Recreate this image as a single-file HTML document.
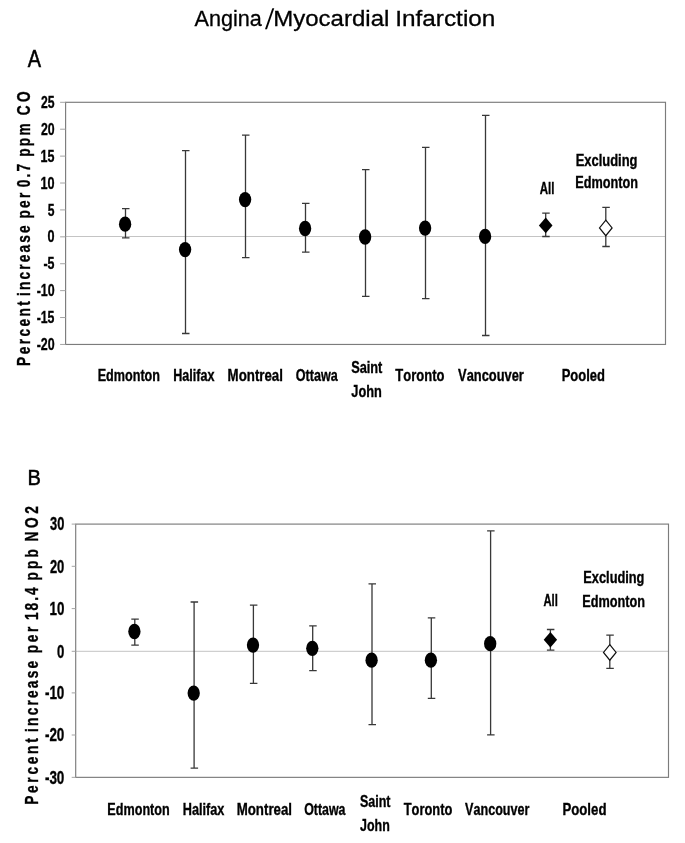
<!DOCTYPE html>
<html lang="en"><head><meta charset="utf-8"><title>Angina/Myocardial Infarction</title>
<style>html,body{margin:0;padding:0;background:#fff}svg{display:block;will-change:transform;opacity:.999}text{font-kerning:none}</style></head>
<body>
<svg width="685" height="843" viewBox="0 0 685 843" font-family="Liberation Sans, Arial, Helvetica, sans-serif" fill="#000">
<rect width="685" height="843" fill="#fff"/>
<text y="25.6" font-size="22.8" stroke="#000" stroke-width="0.3"><tspan x="194.56" textLength="67.34" lengthAdjust="spacingAndGlyphs">Angina</tspan></text>
<text transform="translate(265.1,28.9) skewX(-5.9) scale(1,1.125)" font-size="25.6">/</text>
<text y="25.6" font-size="22.8" stroke="#000" stroke-width="0.3"><tspan x="273.23" textLength="116.18" lengthAdjust="spacingAndGlyphs">Myocardial</tspan> <tspan x="395.25" textLength="100.13" lengthAdjust="spacingAndGlyphs">Infarction</tspan></text>
<text x="27.76" y="66.9" font-size="23.2" textLength="13.28" lengthAdjust="spacingAndGlyphs" stroke="#000" stroke-width="0.55">A</text>
<text x="27.55" y="485.4" font-size="21.6" textLength="13.41" lengthAdjust="spacingAndGlyphs" stroke="#000" stroke-width="0.5">B</text>
<path d="M65.6 236.50H665.5" stroke="#c4c4c4" stroke-width="1" fill="none"/>
<rect x="65.6" y="102.3" width="599.90" height="242.15" fill="none" stroke="#7c7c7c" stroke-width="1.15"/>
<path d="M60.1 102.30H65.6M60.1 129.21H65.6M60.1 156.11H65.6M60.1 183.02H65.6M60.1 209.92H65.6M60.1 236.83H65.6M60.1 263.73H65.6M60.1 290.64H65.6M60.1 317.54H65.6M60.1 344.45H65.6" stroke="#a4a4a4" stroke-width="1" fill="none"/>
<text x="40.93" y="107.91" font-size="16.5" font-weight="700" textLength="13.51" lengthAdjust="spacingAndGlyphs" stroke="#000" stroke-width="0.35">25</text>
<text x="40.92" y="134.81" font-size="16.5" font-weight="700" textLength="13.68" lengthAdjust="spacingAndGlyphs" stroke="#000" stroke-width="0.35">20</text>
<text x="40.56" y="161.72" font-size="16.5" font-weight="700" textLength="13.88" lengthAdjust="spacingAndGlyphs" stroke="#000" stroke-width="0.35">15</text>
<text x="40.55" y="188.62" font-size="16.5" font-weight="700" textLength="14.07" lengthAdjust="spacingAndGlyphs" stroke="#000" stroke-width="0.35">10</text>
<text x="47.73" y="215.53" font-size="16.5" font-weight="700" textLength="6.71" lengthAdjust="spacingAndGlyphs" stroke="#000" stroke-width="0.35">5</text>
<text x="47.60" y="242.43" font-size="16.5" font-weight="700" textLength="7.02" lengthAdjust="spacingAndGlyphs" stroke="#000" stroke-width="0.35">0</text>
<text x="43.42" y="269.34" font-size="16.5" font-weight="700" textLength="11.03" lengthAdjust="spacingAndGlyphs" stroke="#000" stroke-width="0.35">-5</text>
<text x="36.67" y="296.25" font-size="16.5" font-weight="700" textLength="17.94" lengthAdjust="spacingAndGlyphs" stroke="#000" stroke-width="0.35">-10</text>
<text x="36.67" y="323.15" font-size="16.5" font-weight="700" textLength="17.77" lengthAdjust="spacingAndGlyphs" stroke="#000" stroke-width="0.35">-15</text>
<text x="36.67" y="350.06" font-size="16.5" font-weight="700" textLength="17.94" lengthAdjust="spacingAndGlyphs" stroke="#000" stroke-width="0.35">-20</text>
<text transform="translate(30.1,365.92) rotate(-90) scale(0.76,1)" font-size="18" font-weight="700" letter-spacing="3.223" stroke="#000" stroke-width="0.35">Percent</text>
<text transform="translate(30.1,295.96) rotate(-90) scale(0.76,1)" font-size="18" font-weight="700" letter-spacing="2.839" stroke="#000" stroke-width="0.35">increase</text>
<text transform="translate(30.1,218.60) rotate(-90) scale(0.76,1)" font-size="18" font-weight="700" letter-spacing="3.106" stroke="#000" stroke-width="0.35">per</text>
<text transform="translate(30.1,187.24) rotate(-90) scale(0.76,1)" font-size="18" font-weight="700" letter-spacing="2.780" stroke="#000" stroke-width="0.35">0.7</text>
<text transform="translate(30.1,156.80) rotate(-90) scale(0.76,1)" font-size="18" font-weight="700" letter-spacing="3.009" stroke="#000" stroke-width="0.35">ppm</text>
<text transform="translate(30.1,115.36) rotate(-90) scale(0.76,1)" font-size="18" font-weight="700" letter-spacing="4.494" stroke="#000" stroke-width="0.35">CO</text>
<path d="M125.5 208.6V237.8M122.0 208.6H129.5M122.0 237.8H129.5" stroke="#383838" stroke-width="1.3" fill="none"/>
<ellipse cx="125.1" cy="224.2" rx="6.15" ry="7.65"/>
<path d="M185.5 150.7V333.5M182.0 150.7H189.5M182.0 333.5H189.5" stroke="#383838" stroke-width="1.3" fill="none"/>
<ellipse cx="185.1" cy="249.6" rx="6.15" ry="7.65"/>
<path d="M245.5 135.2V257.6M242.0 135.2H249.5M242.0 257.6H249.5" stroke="#383838" stroke-width="1.3" fill="none"/>
<ellipse cx="245.1" cy="199.6" rx="6.15" ry="7.65"/>
<path d="M305.5 203.3V252.1M302.0 203.3H309.5M302.0 252.1H309.5" stroke="#383838" stroke-width="1.3" fill="none"/>
<ellipse cx="305.1" cy="228.5" rx="6.15" ry="7.65"/>
<path d="M365.5 169.7V296.3M362.0 169.7H369.5M362.0 296.3H369.5" stroke="#383838" stroke-width="1.3" fill="none"/>
<ellipse cx="365.1" cy="237.0" rx="6.15" ry="7.65"/>
<path d="M425.5 147.4V298.7M422.0 147.4H429.5M422.0 298.7H429.5" stroke="#383838" stroke-width="1.3" fill="none"/>
<ellipse cx="425.1" cy="228.1" rx="6.15" ry="7.65"/>
<path d="M485.5 115.4V335.5M482.0 115.4H489.5M482.0 335.5H489.5" stroke="#383838" stroke-width="1.3" fill="none"/>
<ellipse cx="485.1" cy="236.4" rx="6.15" ry="7.65"/>
<path d="M545.7 213.2V236.5M542.2 213.2H549.7M542.2 236.5H549.7" stroke="#383838" stroke-width="1.3" fill="none"/>
<path d="M545.7 217.6L552.5 225.4L545.7 233.2L538.9 225.4Z"/>
<path d="M605.8 207.4V246.5M602.3 207.4H609.8M602.3 246.5H609.8" stroke="#383838" stroke-width="1.3" fill="none"/>
<path d="M605.8 220.1L612.1 227.9L605.8 235.7L599.5 227.9Z" fill="#fff" stroke="#111" stroke-width="1.2"/>
<text x="97.66" y="380.9" font-size="16.3" font-weight="700" textLength="62.33" lengthAdjust="spacingAndGlyphs" stroke="#000" stroke-width="0.35">Edmonton</text>
<text x="173.26" y="380.9" font-size="16.3" font-weight="700" textLength="41.23" lengthAdjust="spacingAndGlyphs" stroke="#000" stroke-width="0.35">Halifax</text>
<text x="227.61" y="380.9" font-size="16.3" font-weight="700" textLength="55.33" lengthAdjust="spacingAndGlyphs" stroke="#000" stroke-width="0.35">Montreal</text>
<text x="295.78" y="380.9" font-size="16.3" font-weight="700" textLength="41.94" lengthAdjust="spacingAndGlyphs" stroke="#000" stroke-width="0.35">Ottawa</text>
<text x="395.35" y="380.9" font-size="16.3" font-weight="700" textLength="49.05" lengthAdjust="spacingAndGlyphs" stroke="#000" stroke-width="0.35">Toronto</text>
<text x="458.11" y="380.9" font-size="16.3" font-weight="700" textLength="65.78" lengthAdjust="spacingAndGlyphs" stroke="#000" stroke-width="0.35">Vancouver</text>
<text x="561.63" y="380.9" font-size="16.3" font-weight="700" textLength="43.33" lengthAdjust="spacingAndGlyphs" stroke="#000" stroke-width="0.35">Pooled</text>
<text x="351.13" y="373.3" font-size="16.3" font-weight="700" textLength="31.22" lengthAdjust="spacingAndGlyphs" stroke="#000" stroke-width="0.35">Saint</text>
<text x="351.31" y="396.8" font-size="16.3" font-weight="700" textLength="30.48" lengthAdjust="spacingAndGlyphs" stroke="#000" stroke-width="0.35">John</text>
<text x="539.81" y="194.4" font-size="15.9" font-weight="700" textLength="14.70" lengthAdjust="spacingAndGlyphs" stroke="#000" stroke-width="0.35">All</text>
<text x="575.63" y="165.6" font-size="15.9" font-weight="700" textLength="61.83" lengthAdjust="spacingAndGlyphs" stroke="#000" stroke-width="0.35">Excluding</text>
<text x="575.25" y="188.4" font-size="15.9" font-weight="700" textLength="62.74" lengthAdjust="spacingAndGlyphs" stroke="#000" stroke-width="0.35">Edmonton</text>
<path d="M75.7 651.30H668.5" stroke="#c4c4c4" stroke-width="1" fill="none"/>
<rect x="75.7" y="524.1" width="592.80" height="253.25" fill="none" stroke="#7c7c7c" stroke-width="1.15"/>
<path d="M71.7 524.10H75.7M71.7 566.30H75.7M71.7 608.60H75.7M71.7 651.30H75.7M71.7 692.90H75.7M71.7 735.00H75.7M71.7 777.35H75.7" stroke="#a4a4a4" stroke-width="1" fill="none"/>
<text x="50.06" y="530.37" font-size="17.5" font-weight="700" textLength="14.27" lengthAdjust="spacingAndGlyphs" stroke="#000" stroke-width="0.35">30</text>
<text x="49.90" y="572.56" font-size="17.5" font-weight="700" textLength="14.43" lengthAdjust="spacingAndGlyphs" stroke="#000" stroke-width="0.35">20</text>
<text x="49.51" y="614.87" font-size="17.5" font-weight="700" textLength="14.84" lengthAdjust="spacingAndGlyphs" stroke="#000" stroke-width="0.35">10</text>
<text x="57.03" y="657.56" font-size="17.5" font-weight="700" textLength="7.31" lengthAdjust="spacingAndGlyphs" stroke="#000" stroke-width="0.35">0</text>
<text x="44.92" y="699.16" font-size="17.5" font-weight="700" textLength="19.43" lengthAdjust="spacingAndGlyphs" stroke="#000" stroke-width="0.35">-10</text>
<text x="44.92" y="741.26" font-size="17.5" font-weight="700" textLength="19.43" lengthAdjust="spacingAndGlyphs" stroke="#000" stroke-width="0.35">-20</text>
<text x="44.92" y="783.62" font-size="17.5" font-weight="700" textLength="19.43" lengthAdjust="spacingAndGlyphs" stroke="#000" stroke-width="0.35">-30</text>
<text transform="translate(38.0,804.82) rotate(-90) scale(0.76,1)" font-size="18" font-weight="700" letter-spacing="3.596" stroke="#000" stroke-width="0.35">Percent</text>
<text transform="translate(38.0,731.96) rotate(-90) scale(0.76,1)" font-size="18" font-weight="700" letter-spacing="2.933" stroke="#000" stroke-width="0.35">increase</text>
<text transform="translate(38.0,653.20) rotate(-90) scale(0.76,1)" font-size="18" font-weight="700" letter-spacing="3.435" stroke="#000" stroke-width="0.35">per</text>
<text transform="translate(38.0,620.06) rotate(-90) scale(0.76,1)" font-size="18" font-weight="700" letter-spacing="2.680" stroke="#000" stroke-width="0.35">18.4</text>
<text transform="translate(38.0,580.60) rotate(-90) scale(0.76,1)" font-size="18" font-weight="700" letter-spacing="4.207" stroke="#000" stroke-width="0.35">ppb</text>
<text transform="translate(38.0,541.42) rotate(-90) scale(0.76,1)" font-size="18" font-weight="700" letter-spacing="4.760" stroke="#000" stroke-width="0.35">NO2</text>
<path d="M134.8 619.2V645.1M131.3 619.2H138.8M131.3 645.1H138.8" stroke="#383838" stroke-width="1.3" fill="none"/>
<ellipse cx="134.4" cy="631.5" rx="6.15" ry="7.65"/>
<path d="M194.1 602.0V768.1M190.6 602.0H198.1M190.6 768.1H198.1" stroke="#383838" stroke-width="1.3" fill="none"/>
<ellipse cx="193.7" cy="693.1" rx="6.15" ry="7.65"/>
<path d="M253.4 605.2V683.3M249.9 605.2H257.4M249.9 683.3H257.4" stroke="#383838" stroke-width="1.3" fill="none"/>
<ellipse cx="253.0" cy="645.1" rx="6.15" ry="7.65"/>
<path d="M312.7 625.9V670.7M309.2 625.9H316.7M309.2 670.7H316.7" stroke="#383838" stroke-width="1.3" fill="none"/>
<ellipse cx="312.3" cy="648.3" rx="6.15" ry="7.65"/>
<path d="M372.0 583.8V724.6M368.5 583.8H376.0M368.5 724.6H376.0" stroke="#383838" stroke-width="1.3" fill="none"/>
<ellipse cx="371.6" cy="660.2" rx="6.15" ry="7.65"/>
<path d="M431.3 617.8V698.3M427.8 617.8H435.3M427.8 698.3H435.3" stroke="#383838" stroke-width="1.3" fill="none"/>
<ellipse cx="430.9" cy="660.2" rx="6.15" ry="7.65"/>
<path d="M490.6 530.9V734.8M487.1 530.9H494.6M487.1 734.8H494.6" stroke="#383838" stroke-width="1.3" fill="none"/>
<ellipse cx="490.2" cy="643.7" rx="6.15" ry="7.65"/>
<path d="M550.4 629.5V650.1M546.9 629.5H554.4M546.9 650.1H554.4" stroke="#383838" stroke-width="1.3" fill="none"/>
<path d="M550.4 632.0L557.1 639.7L550.4 647.4L543.7 639.7Z"/>
<path d="M609.8 635.2V668.3M606.3 635.2H613.8M606.3 668.3H613.8" stroke="#383838" stroke-width="1.3" fill="none"/>
<path d="M609.8 644.6L616.1 652.4L609.8 660.2L603.5 652.4Z" fill="#fff" stroke="#111" stroke-width="1.2"/>
<text x="107.36" y="814.8" font-size="16.3" font-weight="700" textLength="62.33" lengthAdjust="spacingAndGlyphs" stroke="#000" stroke-width="0.35">Edmonton</text>
<text x="182.75" y="814.8" font-size="16.3" font-weight="700" textLength="41.64" lengthAdjust="spacingAndGlyphs" stroke="#000" stroke-width="0.35">Halifax</text>
<text x="236.71" y="814.8" font-size="16.3" font-weight="700" textLength="55.33" lengthAdjust="spacingAndGlyphs" stroke="#000" stroke-width="0.35">Montreal</text>
<text x="304.19" y="814.8" font-size="16.3" font-weight="700" textLength="41.33" lengthAdjust="spacingAndGlyphs" stroke="#000" stroke-width="0.35">Ottawa</text>
<text x="403.66" y="814.8" font-size="16.3" font-weight="700" textLength="48.65" lengthAdjust="spacingAndGlyphs" stroke="#000" stroke-width="0.35">Toronto</text>
<text x="465.11" y="814.8" font-size="16.3" font-weight="700" textLength="64.28" lengthAdjust="spacingAndGlyphs" stroke="#000" stroke-width="0.35">Vancouver</text>
<text x="562.42" y="814.8" font-size="16.3" font-weight="700" textLength="44.06" lengthAdjust="spacingAndGlyphs" stroke="#000" stroke-width="0.35">Pooled</text>
<text x="359.94" y="806.5" font-size="16.3" font-weight="700" textLength="30.51" lengthAdjust="spacingAndGlyphs" stroke="#000" stroke-width="0.35">Saint</text>
<text x="360.11" y="831.1" font-size="16.3" font-weight="700" textLength="29.66" lengthAdjust="spacingAndGlyphs" stroke="#000" stroke-width="0.35">John</text>
<text x="543.42" y="605.7" font-size="15.9" font-weight="700" textLength="14.38" lengthAdjust="spacingAndGlyphs" stroke="#000" stroke-width="0.35">All</text>
<text x="583.34" y="582.6" font-size="15.9" font-weight="700" textLength="61.11" lengthAdjust="spacingAndGlyphs" stroke="#000" stroke-width="0.35">Excluding</text>
<text x="582.25" y="606.7" font-size="15.9" font-weight="700" textLength="62.84" lengthAdjust="spacingAndGlyphs" stroke="#000" stroke-width="0.35">Edmonton</text>
</svg>
</body></html>
